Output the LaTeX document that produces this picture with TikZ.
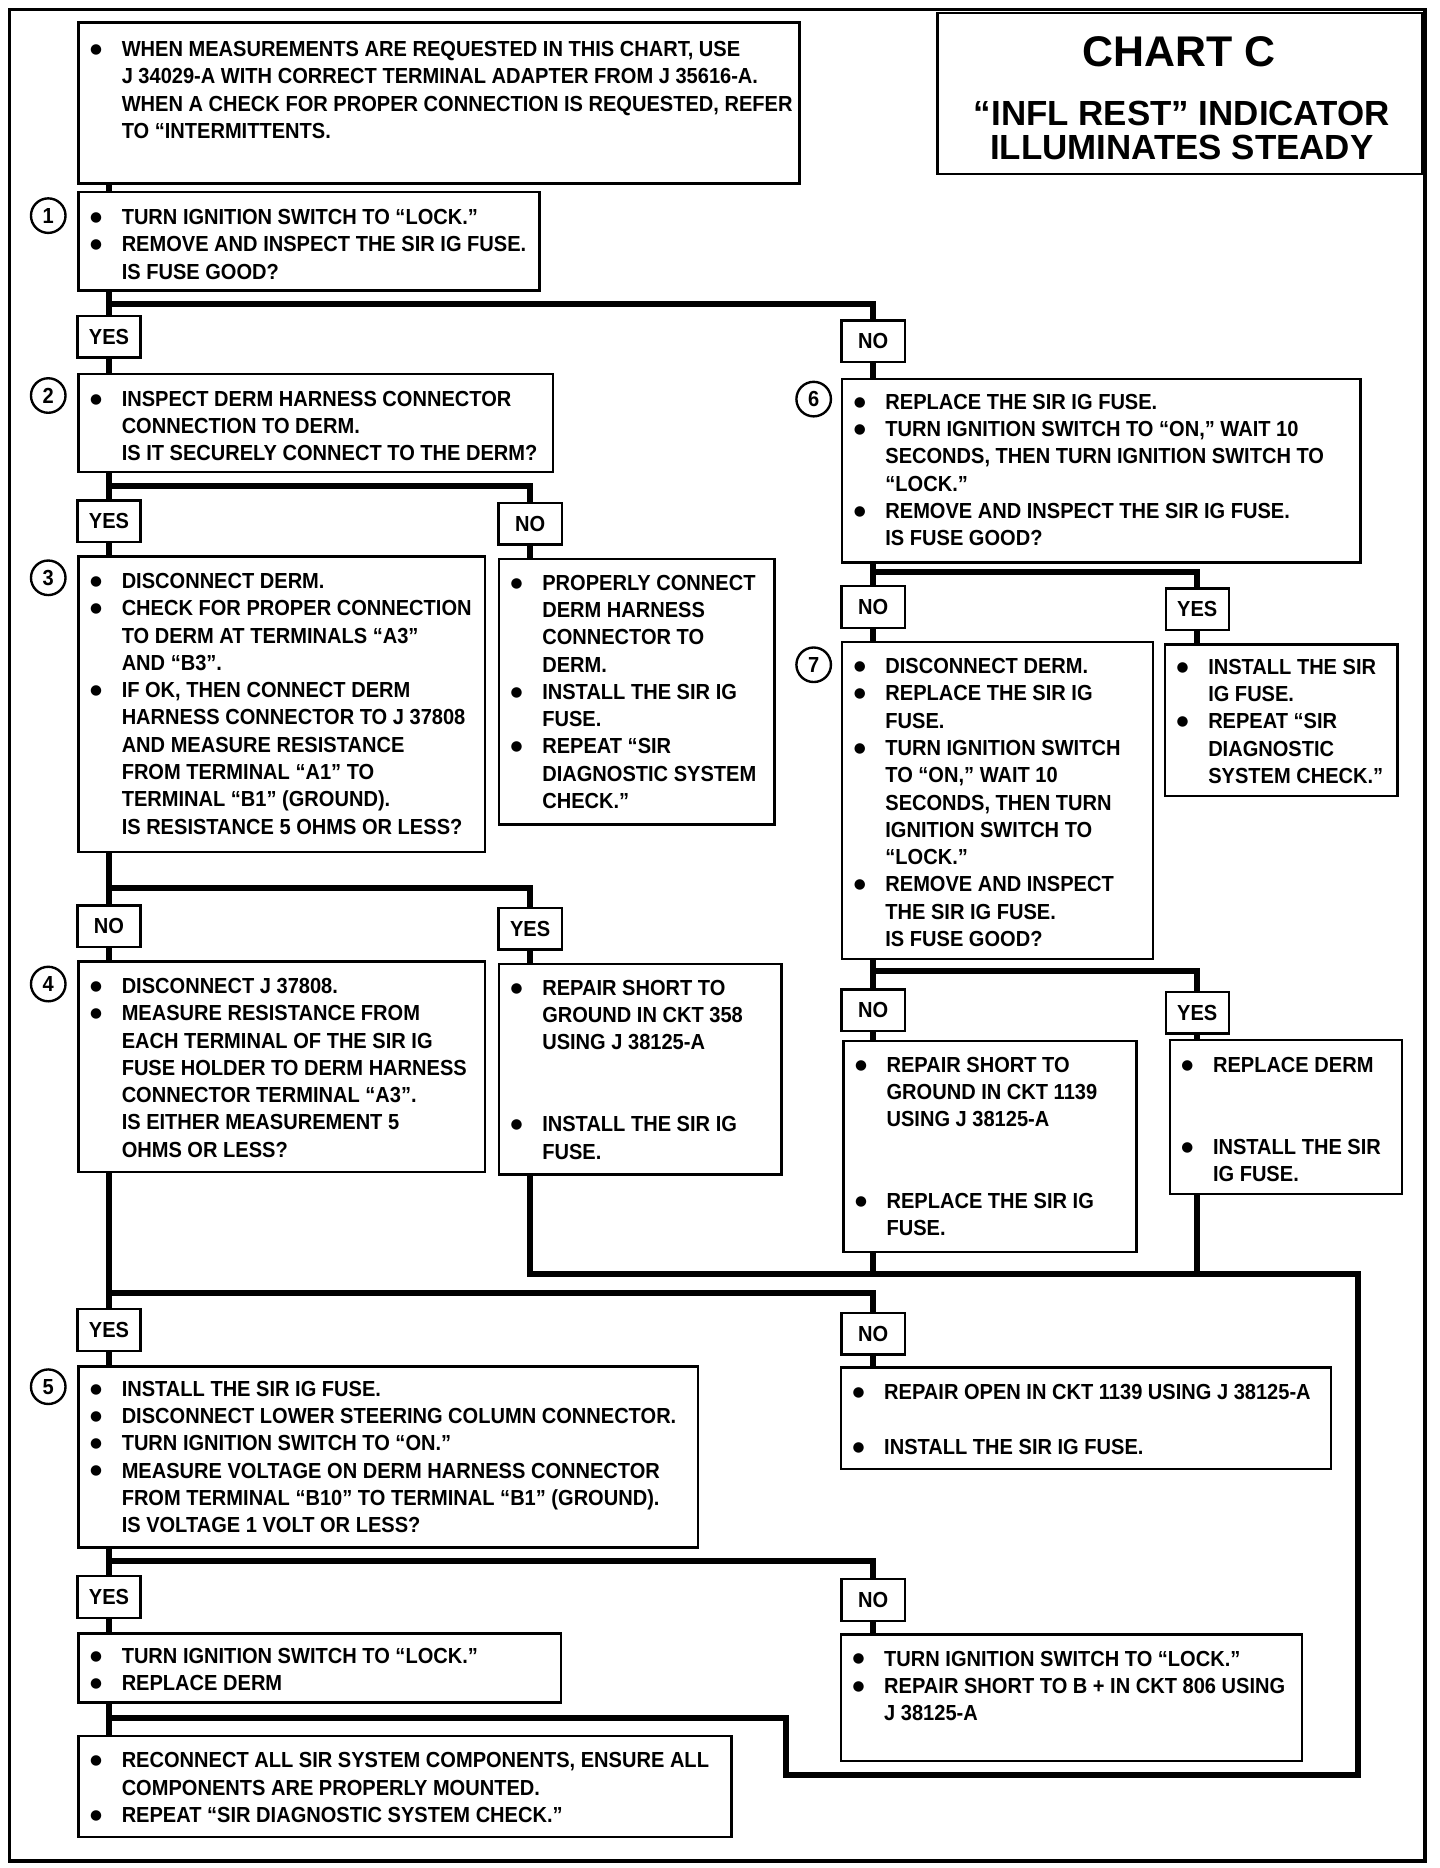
\documentclass[tikz,border=0pt]{standalone}
\usepackage{fontspec}
\setmainfont{Liberation Sans}[FakeStretch=0.92]
\newfontfamily\titlefont{Liberation Sans}
\newfontfamily\symfont{DejaVu Sans}
\usetikzlibrary{backgrounds}
\newcommand\bu{\makebox[27pt][l]{\hspace*{0.5pt}\raisebox{2.6pt}{\symfont\fontsize{11.5}{12}\selectfont ●}}}
\newcommand\ii{\hspace*{27pt}}
\newcommand\bodyf{\bfseries\fontsize{18.3}{22.9}\selectfont}
\newcommand\pb[1]{\vtop{\let\\\cr\halign{##\hfil\cr#1\crcr}}}
\begin{document}
\begin{tikzpicture}[x=1pt,y=-1pt,
  box/.style={draw, line width=2pt, rectangle, inner sep=0pt, anchor=north west, fill=white},
  lbl/.style={draw, line width=2pt, rectangle, inner sep=0pt, minimum width=53pt, minimum height=35pt, font=\bodyf, fill=white},
  conn/.style={line width=5pt, line join=miter, line cap=rect},
  num/.style={draw, circle, line width=2pt, minimum size=29pt, inner sep=0pt, font=\bodyf, fill=white},
  txt/.style={inner sep=0pt, anchor=base west, font=\bodyf},
  ttl/.style={inner sep=0pt, anchor=base, font=\titlefont\bfseries},
]
\useasboundingbox (0,0) rectangle (1208.7,1568);
\draw[line width=3pt] (8,8) rectangle (1196,1562);

% title
\node[box, minimum width=407pt, minimum height=135pt] (title) at (786,10) {};
\node[ttl, font=\titlefont\bfseries\fontsize{36}{40}\selectfont] (tt1) at (990,56) {CHART C};
\node[ttl, font=\titlefont\bfseries\fontsize{29.3}{32}\selectfont] (tt2) at (992,105) {“INFL REST” INDICATOR};
\node[ttl, font=\titlefont\bfseries\fontsize{29.3}{32}\selectfont] (tt3) at (992,134) {ILLUMINATES STEADY};

% boxes
\node[box, minimum width=605pt, minimum height=135pt] (T0) at (65,18) {};
\node[txt] (T0t) at (75,47.5) {\pb{\bu WHEN MEASUREMENTS ARE REQUESTED IN THIS CHART, USE\\
\ii J 34029-A WITH CORRECT TERMINAL ADAPTER FROM J 35616-A.\\
\ii WHEN A CHECK FOR PROPER CONNECTION IS REQUESTED, REFER\\
\ii TO “INTERMITTENTS.}};

\node[box, minimum width=387pt, minimum height=83pt] (b1) at (65,160) {};
\node[txt] (b1t) at (75,188.5) {\pb{\bu TURN IGNITION SWITCH TO “LOCK.”\\
\bu REMOVE AND INSPECT THE SIR IG FUSE.\\
\ii IS FUSE GOOD?}};

\node[box, minimum width=398pt, minimum height=82pt] (b2) at (65,313) {};
\node[txt] (b2t) at (75,341) {\pb{\bu INSPECT DERM HARNESS CONNECTOR\\
\ii CONNECTION TO DERM.\\
\ii IS IT SECURELY CONNECT TO THE DERM?}};

\node[box, minimum width=341pt, minimum height=248pt] (b3) at (65,466) {};
\node[txt] (b3t) at (75,494) {\pb{\bu DISCONNECT DERM.\\
\bu CHECK FOR PROPER CONNECTION\\
\ii TO DERM AT TERMINALS “A3”\\
\ii AND “B3”.\\
\bu IF OK, THEN CONNECT DERM\\
\ii HARNESS CONNECTOR TO J 37808\\
\ii AND MEASURE RESISTANCE\\
\ii FROM TERMINAL “A1” TO\\
\ii TERMINAL “B1” (GROUND).\\
\ii IS RESISTANCE 5 OHMS OR LESS?}};

\node[box, minimum width=231pt, minimum height=223pt] (bpc) at (418,468) {};
\node[txt] (bpct) at (428,495.5) {\pb{\bu PROPERLY CONNECT\\
\ii DERM HARNESS\\
\ii CONNECTOR TO\\
\ii DERM.\\
\bu INSTALL THE SIR IG\\
\ii FUSE.\\
\bu REPEAT “SIR\\
\ii DIAGNOSTIC SYSTEM\\
\ii CHECK.”}};

\node[box, minimum width=341pt, minimum height=177pt] (b4) at (65,806) {};
\node[txt] (b4t) at (75,834) {\pb{\bu DISCONNECT J 37808.\\
\bu MEASURE RESISTANCE FROM\\
\ii EACH TERMINAL OF THE SIR IG\\
\ii FUSE HOLDER TO DERM HARNESS\\
\ii CONNECTOR TERMINAL “A3”.\\
\ii IS EITHER MEASUREMENT 5\\
\ii OHMS OR LESS?}};

\node[box, minimum width=237pt, minimum height=177pt] (b358) at (418,808) {};
\node[txt] (b358t) at (428,835.5) {\pb{\bu REPAIR SHORT TO\\
\ii GROUND IN CKT 358\\
\ii USING J 38125-A\\
\\
\\
\bu INSTALL THE SIR IG\\
\ii FUSE.}};

\node[box, minimum width=435pt, minimum height=154pt] (b6) at (706,317) {};
\node[txt] (b6t) at (716,343.5) {\pb{\bu REPLACE THE SIR IG FUSE.\\
\bu TURN IGNITION SWITCH TO “ON,” WAIT 10\\
\ii SECONDS, THEN TURN IGNITION SWITCH TO\\
\ii “LOCK.”\\
\bu REMOVE AND INSPECT THE SIR IG FUSE.\\
\ii IS FUSE GOOD?}};

\node[box, minimum width=261pt, minimum height=266pt] (b7) at (706,538) {};
\node[txt] (b7t) at (716,565.5) {\pb{\bu DISCONNECT DERM.\\
\bu REPLACE THE SIR IG\\
\ii FUSE.\\
\bu TURN IGNITION SWITCH\\
\ii TO “ON,” WAIT 10\\
\ii SECONDS, THEN TURN\\
\ii IGNITION SWITCH TO\\
\ii “LOCK.”\\
\bu REMOVE AND INSPECT\\
\ii THE SIR IG FUSE.\\
\ii IS FUSE GOOD?}};

\node[box, minimum width=195pt, minimum height=127pt] (bins) at (977,540) {};
\node[txt] (binst) at (987,566) {\pb{\bu INSTALL THE SIR\\
\ii IG FUSE.\\
\bu REPEAT “SIR\\
\ii DIAGNOSTIC\\
\ii SYSTEM CHECK.”}};

\node[box, minimum width=246pt, minimum height=177pt] (b1139) at (707,873) {};
\node[txt] (b1139t) at (717,900) {\pb{\bu REPAIR SHORT TO\\
\ii GROUND IN CKT 1139\\
\ii USING J 38125-A\\
\\
\\
\bu REPLACE THE SIR IG\\
\ii FUSE.}};

\node[box, minimum width=195pt, minimum height=129pt] (bderm) at (981,872) {};
\node[txt] (bdermt) at (991,900.5) {\pb{\bu REPLACE DERM\\
\\
\\
\bu INSTALL THE SIR\\
\ii IG FUSE.}};

\node[box, minimum width=520pt, minimum height=152pt] (b5) at (65,1146) {};
\node[txt] (b5t) at (75,1172) {\pb{\bu INSTALL THE SIR IG FUSE.\\
\bu DISCONNECT LOWER STEERING COLUMN CONNECTOR.\\
\bu TURN IGNITION SWITCH TO “ON.”\\
\bu MEASURE VOLTAGE ON DERM HARNESS CONNECTOR\\
\ii FROM TERMINAL “B10” TO TERMINAL “B1” (GROUND).\\
\ii IS VOLTAGE 1 VOLT OR LESS?}};

\node[box, minimum width=411pt, minimum height=85pt] (bopen) at (705,1147) {};
\node[txt] (bopent) at (715,1175) {\pb{\bu REPAIR OPEN IN CKT 1139 USING J 38125-A\\
\\
\bu INSTALL THE SIR IG FUSE.}};

\node[box, minimum width=405pt, minimum height=58pt] (byes) at (65,1370) {};
\node[txt] (byest) at (75,1396.5) {\pb{\bu TURN IGNITION SWITCH TO “LOCK.”\\
\bu REPLACE DERM}};

\node[box, minimum width=387pt, minimum height=106pt] (bbplus) at (705,1371) {};
\node[txt] (bbplust) at (715,1398.5) {\pb{\bu TURN IGNITION SWITCH TO “LOCK.”\\
\bu REPAIR SHORT TO B + IN CKT 806 USING\\
\ii J 38125-A}};

\node[box, minimum width=548pt, minimum height=85pt] (bfin) at (65,1456) {};
\node[txt] (bfint) at (75,1484) {\pb{\bu RECONNECT ALL SIR SYSTEM COMPONENTS, ENSURE ALL\\
\ii COMPONENTS ARE PROPERLY MOUNTED.\\
\bu REPEAT “SIR DIAGNOSTIC SYSTEM CHECK.”}};

% labels
\node[lbl] (Y1) at (91.5,282.5) {YES};
\node[lbl] (N1) at (733,286.5) {NO};
\node[lbl] (Y2) at (91.5,437.5) {YES};
\node[lbl] (N2) at (445,439.5) {NO};
\node[lbl] (N3) at (91.5,777.5) {NO};
\node[lbl] (Y3) at (445,779.5) {YES};
\node[lbl] (N6) at (733,509.5) {NO};
\node[lbl] (Y6) at (1005,511.5) {YES};
\node[lbl] (N7) at (733,848) {NO};
\node[lbl] (Y7) at (1005,850) {YES};
\node[lbl] (Y4) at (91.5,1116.5) {YES};
\node[lbl] (N4) at (733,1119.5) {NO};
\node[lbl] (Y5) at (91.5,1340.5) {YES};
\node[lbl] (N5) at (733,1343) {NO};

% step numbers
\node[num] (c1) at (40.5,181) {1};
\node[num] (c2) at (40.5,332) {2};
\node[num] (c3) at (40.5,485) {3};
\node[num] (c4) at (40.5,826) {4};
\node[num] (c5) at (40.5,1164) {5};
\node[num] (c6) at (683,335) {6};
\node[num] (c7) at (683,558) {7};

% junctions
\coordinate (j1) at (91.5,255);
\coordinate (j2) at (91.5,408);
\coordinate (j3) at (91.5,745);
\coordinate (j6) at (733,480);
\coordinate (j7) at (733,815);
\coordinate (j4) at (91.5,1085);
\coordinate (j5) at (91.5,1310);
\coordinate (r1) at (445,1069);
\coordinate (r2) at (1140,1069);
\coordinate (r3) at (1140,1490);
\coordinate (r4) at (660,1490);
\coordinate (r5) at (660,1442);
\coordinate (r6) at (91.5,1442);

\begin{pgfonlayer}{background}
\draw[conn] (T0.south -| Y1) -- (b1.north -| Y1);
\draw[conn] (b1.south -| Y1) -- (Y1.north);
\draw[conn] (j1) -| (N1.north);
\draw[conn] (Y1.south) -- (b2.north -| Y1);
\draw[conn] (N1.south) -- (b6.north -| N1);
\draw[conn] (b2.south -| Y2) -- (Y2.north);
\draw[conn] (j2) -| (N2.north);
\draw[conn] (Y2.south) -- (b3.north -| Y2);
\draw[conn] (N2.south) -- (bpc.north -| N2);
\draw[conn] (b3.south -| N3) -- (N3.north);
\draw[conn] (j3) -| (Y3.north);
\draw[conn] (N3.south) -- (b4.north -| N3);
\draw[conn] (Y3.south) -- (b358.north -| Y3);
\draw[conn] (b6.south -| N6) -- (N6.north);
\draw[conn] (j6) -| (Y6.north);
\draw[conn] (N6.south) -- (b7.north -| N6);
\draw[conn] (Y6.south) -- (bins.north -| Y6);
\draw[conn] (b7.south -| N7) -- (N7.north);
\draw[conn] (j7) -| (Y7.north);
\draw[conn] (N7.south) -- (b1139.north -| N7);
\draw[conn] (Y7.south) -- (bderm.north -| Y7);
\draw[conn] (b4.south -| Y4) -- (Y4.north);
\draw[conn] (j4) -| (N4.north);
\draw[conn] (Y4.south) -- (b5.north -| Y4);
\draw[conn] (N4.south) -- (bopen.north -| N4);
\draw[conn] (b5.south -| Y5) -- (Y5.north);
\draw[conn] (j5) -| (N5.north);
\draw[conn] (Y5.south) -- (byes.north -| Y5);
\draw[conn] (N5.south) -- (bbplus.north -| N5);
\draw[conn] (byes.south -| Y5) -- (bfin.north -| Y5);
\draw[conn] (b358.south -| Y3) -- (r1) -- (r2) -- (r3) -- (r4) -- (r5) -- (r6);
\draw[conn] (b1139.south -| N7) -- (N7 |- r1);
\draw[conn] (bderm.south -| Y7) -- (Y7 |- r1);
\end{pgfonlayer}
\end{tikzpicture}
\end{document}
